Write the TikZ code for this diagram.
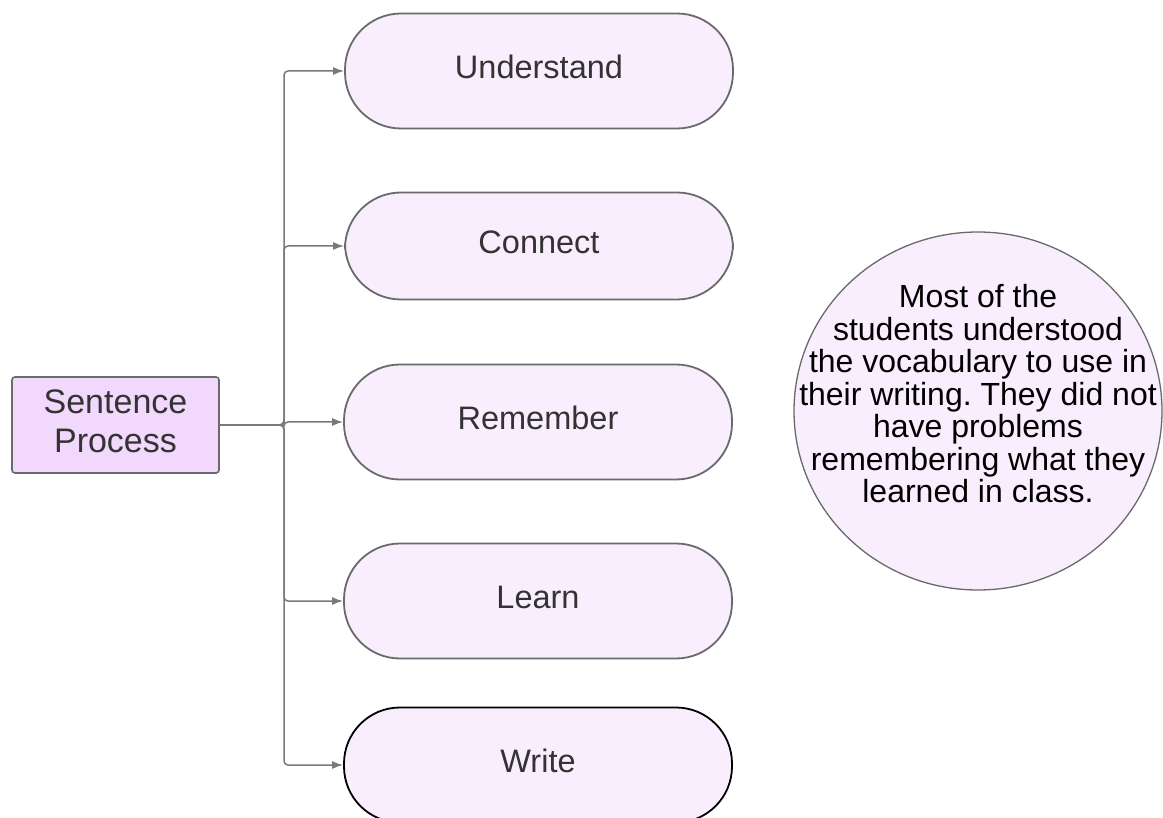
\documentclass[tikz,border=0pt]{standalone}
\usepackage{fontspec}
\setmainfont{Liberation Sans}
\usetikzlibrary{arrows.meta,shapes.geometric}
\definecolor{pill}{HTML}{F9EEFD}
\definecolor{boxfill}{HTML}{F1D8FC}
\definecolor{edge}{HTML}{6A6A6A}
\definecolor{txt}{HTML}{333333}
\frenchspacing
\tikzset{
  pillnode/.style={draw=edge, line width=1.8pt, fill=pill, rounded corners=56pt,
    minimum width=388pt, minimum height=115pt, text=txt, text depth=8pt,
    font=\fontsize{32.5}{38}\selectfont},
  srcnode/.style={draw=edge, line width=1.6pt, fill=boxfill, rounded corners=3pt,
    minimum width=207pt, minimum height=96pt, text=txt, align=center,
    font=\fontsize{34}{40}\selectfont},
  conn/.style={draw=edge!90, line width=1.5pt, rounded corners=4pt,
    -{Latex[length=11pt,width=8pt]}},
  notenode/.style={ellipse, draw=edge, line width=1.3pt, fill=pill,
    minimum width=368pt, minimum height=358pt, inner sep=0pt},
  notetext/.style={align=center, text=black, inner sep=0pt,
    font=\fontsize{32}{32.5}\selectfont}
}
\begin{document}
\begin{tikzpicture}[x=1pt,y=-1pt]
\useasboundingbox (0,0) rectangle (1163,818);
\node[srcnode] (sp) at (115.5,425) {\raisebox{4pt}{\begin{tabular}{@{}c@{}}Sentence\\[-1pt]Process\end{tabular}}};
\node[pillnode] (u) at (539,71) {Understand};
\node[pillnode, minimum height=107pt] (c) at (539,246) {Connect};
\node[pillnode] (r) at (538,422) {Remember};
\node[pillnode] (l) at (538,601) {Learn};
\node[pillnode, draw=black] (w) at (538,765) {Write};
\node[notenode] (n) at (978,411) {};
\node[notetext] (nt) at (978,394) {Most of the\\
students understood\\ the vocabulary to use in\\ their writing. They did not\\
have problems\\ remembering what they\\ learned in class.};
\coordinate (j) at (284,425);
\draw[conn] (sp.east) -- (j) |- (u.west);
\draw[conn] (sp.east) -- (j) |- (c.west);
\draw[conn] (sp.east) -- (j) |- (r.west);
\draw[conn] (sp.east) -- (j) |- (l.west);
\draw[conn] (sp.east) -- (j) |- (w.west);
\end{tikzpicture}
\end{document}
